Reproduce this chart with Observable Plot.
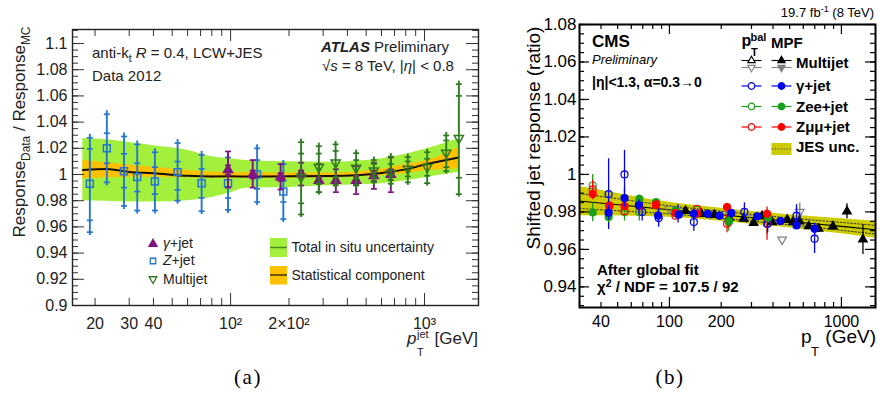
<!DOCTYPE html>
<html><head><meta charset="utf-8">
<script src="https://cdn.jsdelivr.net/npm/d3@7"></script>
<script src="https://cdn.jsdelivr.net/npm/@observablehq/plot@0.6"></script>
<style>
html,body{margin:0;padding:0;background:#fff;}
#wrap{position:relative;width:878px;height:394px;overflow:hidden;font-family:"Liberation Sans",Arial,sans-serif;}
#wrap svg{position:absolute;top:0;overflow:visible;}
</style></head><body><div id="wrap"></div>
<script>
// ================= Panel (a) data =================
const aZPt      = [18.8, 23, 28.2, 33, 40.7, 53.3, 70.9, 97, 137, 187];
const aZVal     = [0.993, 1.020, 1.0025, 0.998, 0.9947, 1.0018, 0.9933, 0.9933, 1.0, 0.987];
const aZUp      = [1.028, 1.046, 1.029, 1.023, 1.017, 1.024, 1.015, 1.013, 1.020, 1.008];
const aZDn      = [0.956, 0.994, 0.976, 0.9725, 0.9725, 0.980, 0.972, 0.973, 0.979, 0.966];
const aZStatUp  = [1.0196, 1.0315, 1.0158, 1.0086, 1.0056, 1.0099, 1.0043, 1.004, 1.011, 0.995];
const aZStatDn  = [0.965, 1.0086, 0.990, 0.987, 0.985, 0.9883, 0.9822, 0.982, 0.989, 0.979];

const aGPt      = [97, 130, 181, 231, 285, 349, 444, 548, 670];
const aGVal     = [1.0036, 1.0, 0.998, 1.0005, 0.9954, 0.9954, 0.9954, 0.999, 1.0];
const aGUp      = [1.0176, 1.011, 1.008, 1.009, 1.008, 1.004, 1.0063, 1.009, 1.013];
const aGDn      = [0.990, 0.990, 0.9885, 0.9916, 0.9865, 0.9865, 0.985, 0.989, 0.9865];
const aGStatUp  = [1.007, 1.003, 1.001, 1.003, 0.998, 0.998, 0.999, 1.003, 1.004];
const aGStatDn  = [1.000, 0.997, 0.995, 0.998, 0.993, 0.993, 0.992, 0.995, 0.996];

const aMPt      = [231, 285, 348, 444, 548, 670, 820, 1032, 1294, 1503];
const aMVal     = [0.998, 1.0056, 1.009, 1.005, 1.003, 1.001, 1.0043, 1.0056, 1.0165, 1.0277];
const aMUp      = [1.0247, 1.0216, 1.023, 1.0163, 1.011, 1.0137, 1.0133, 1.017, 1.0298, 1.069];
const aMDn      = [0.9695, 0.9865, 0.9916, 0.9916, 0.994, 0.993, 0.994, 0.9934, 1.0025, 0.985];
const aMStatUp  = [1.016, 1.016, 1.018, 1.011, 1.008, 1.008, 1.010, 1.012, 1.026, 1.060];
const aMStatDn  = [0.978, 0.993, 0.998, 0.997, 0.998, 0.996, 0.9985, 0.999, 1.0056, 0.9975];

const aBandPt   = [17.3, 23, 30, 40, 60, 80, 100, 120, 200, 330, 600, 820, 1030, 1500];
const aBandC    = [1.0035, 1.0043, 1.002, 1.001, 0.999, 0.9985, 0.9986, 0.9985, 0.9986, 0.9988, 1.0012, 1.0043, 1.008, 1.013];
const aTotUp    = [1.0275, 1.0265, 1.0245, 1.022, 1.0185, 1.0135, 1.012, 1.0107, 1.0097, 1.0094, 1.012, 1.0158, 1.0196, 1.0273];
const aTotDn    = [0.980, 0.9795, 0.979, 0.979, 0.980, 0.9825, 0.986, 0.9895, 0.990, 0.9916, 0.993, 0.9954, 0.998, 1.0018];
const aStatUp   = [1.0107, 1.009, 1.007, 1.0056, 1.003, 1.002, 1.0018, 1.0015, 1.0012, 1.0012, 1.004, 1.008, 1.0107, 1.0208];
const aStatDn   = [0.9967, 0.9975, 0.998, 0.998, 0.9975, 0.997, 0.997, 0.997, 0.9972, 0.9975, 0.999, 1.001, 1.003, 1.0043];

const aXTickVals = [20, 30, 40, 100, 200, 1000];
const aXTickText = ["20", "30", "40", "10²", "2×10²", "10³"];
const aYTickVals = [0.9, 0.92, 0.94, 0.96, 0.98, 1, 1.02, 1.04, 1.06, 1.08, 1.1];
const aYTickText = ["0.9", "0.92", "0.94", "0.96", "0.98", "1", "1.02", "1.04", "1.06", "1.08", "1.1"];

// ================= Panel (b) data =================
const bMjMpfPt  = [124, 153.3, 182.8, 222.3, 269.8, 308.7, 345.6, 395.6, 484, 523.3, 569.6, 645.4, 736.7, 892.3, 1077, 1334];
const bMjMpfVal = [0.9805, 0.979, 0.9785, 0.977, 0.9764, 0.9742, 0.9778, 0.9746, 0.9758, 0.9746, 0.975, 0.9724, 0.971, 0.9723, 0.9803, 0.9653];
const bMjMpfErr = [0.001, 0.001, 0.001, 0.001, 0.001, 0.001, 0.001, 0.001, 0.0012, 0.0012, 0.0015, 0.0015, 0.002, 0.002, 0.004, 0.008];
const bMjBalPt  = [99.6, 119.1, 143.5, 172.9, 222.3, 281.8, 361.5, 451.8, 572.6];
const bMjBalVal = [0.9817, 0.9805, 0.980, 0.979, 0.979, 0.977, 0.978, 0.9652, 0.980];
const bMjBalErr = [0.001, 0.001, 0.001, 0.001, 0.0015, 0.0015, 0.002, 0.002, 0.003];

const bGMpfPt   = [44.3, 54.8, 66.4, 86.0, 113.2, 138.7, 167.1, 195.6, 229.2, 323.6, 441.7, 548.3, 698.2];
const bGMpfVal  = [0.9796, 0.9874, 0.9835, 0.978, 0.9785, 0.979, 0.979, 0.978, 0.9794, 0.9776, 0.9751, 0.9728, 0.971];
const bGMpfErr  = [0.004, 0.005, 0.003, 0.003, 0.002, 0.002, 0.002, 0.002, 0.002, 0.002, 0.002, 0.002, 0.003];
const bGBalPt   = [44.3, 54.8, 69.4, 86.6, 112.3, 138.7, 272.8, 372.5, 548.3, 698.2];
const bGBalVal  = [0.9895, 1.0, 0.980, 0.9767, 0.979, 0.9746, 0.980, 0.9737, 0.978, 0.9657];
const bGBalErr  = [0.017, 0.011, 0.003, 0.003, 0.003, 0.003, 0.003, 0.003, 0.004, 0.006];

const bZeMpfPt  = [35.8, 44.3, 66.8, 83.6, 108.4, 221.3, 374.6];
const bZeMpfVal = [0.9797, 0.9773, 0.987, 0.9852, 0.9806, 0.9751, 0.977];
const bZeMpfErr = [0.005, 0.003, 0.002, 0.002, 0.002, 0.002, 0.003];
const bZeBalPt  = [35.8, 54.8, 66.8, 83.6, 144.5, 221.3, 369.5];
const bZeBalVal = [0.9941, 0.980, 0.980, 0.9835, 0.9812, 0.9746, 0.9737];
const bZeBalErr = [0.004, 0.003, 0.003, 0.002, 0.002, 0.003, 0.004];

const bZmMpfPt  = [35.8, 44.7, 54.8, 66.8, 83.6, 108.4, 144.5, 216.3, 369.5];
const bZmMpfVal = [0.9895, 0.983, 0.9831, 0.983, 0.984, 0.9794, 0.979, 0.9826, 0.979];
const bZmMpfErr = [0.003, 0.002, 0.002, 0.002, 0.002, 0.002, 0.002, 0.002, 0.002];
const bZmBalPt  = [35.8, 44.7, 54.8, 83.6, 108.4, 144.5, 216.3, 369.5];
const bZmBalVal = [0.992, 0.9835, 0.9804, 0.9835, 0.978, 0.9817, 0.9737, 0.9737];
const bZmBalErr = [0.003, 0.002, 0.002, 0.002, 0.002, 0.002, 0.003, 0.007];

const bJesPt    = [30.0, 41.9, 56.2, 75.4, 114.2, 192.6, 291.7, 492, 694.2, 1000, 1576];
const bJesC     = [0.9858, 0.9845, 0.9834, 0.9822, 0.9806, 0.9786, 0.977, 0.975, 0.9737, 0.9723, 0.9705];
const bJesUp    = [0.9936, 0.9911, 0.9890, 0.9868, 0.9843, 0.9821, 0.9804, 0.9785, 0.9774, 0.9763, 0.9750];
const bJesDn    = [0.9780, 0.9779, 0.9778, 0.9776, 0.9769, 0.9751, 0.9736, 0.9715, 0.9700, 0.9683, 0.9660];
const bJesDotUp = [0.9898, 0.9880, 0.9864, 0.9847, 0.9826, 0.9805, 0.9788, 0.9768, 0.9756, 0.9744, 0.9728];
const bJesDotDn = [0.9818, 0.9810, 0.9804, 0.9797, 0.9786, 0.9767, 0.9752, 0.9732, 0.9718, 0.9702, 0.9682];

const bXTickVals = [40, 100, 200, 1000];
const bXTickText = ["40", "100", "200", "1000"];
const bYTickVals = [0.94, 0.96, 0.98, 1, 1.02, 1.04, 1.06, 1.08];
const bYTickText = ["0.94", "0.96", "0.98", "1", "1.02", "1.04", "1.06", "1.08"];

// ================= helpers =================
const sqrt3 = Math.sqrt(3);
const triDown = {draw(ctx, size) { const y = -Math.sqrt(size / (sqrt3 * 3)); ctx.moveTo(0, -2 * y); ctx.lineTo(-sqrt3 * y, y); ctx.lineTo(sqrt3 * y, y); ctx.closePath(); }};
const capSym = {draw(ctx) { ctx.moveTo(-3, 0); ctx.lineTo(3, 0); }};

function logMinor(lo, hi) {
  const out = [];
  for (let e = 1; e <= 3; e++) for (let k = 2; k <= 9; k++) { const v = k * 10 ** e; if (v >= lo && v <= hi) out.push(v); }
  return out;
}
function linTicks(lo, hi, step) {
  const out = []; const n = Math.round((hi - lo) / step);
  for (let i = 0; i <= n; i++) out.push(+(lo + i * step).toFixed(4));
  return out;
}
function frameTicks({xMinor, xMajor, yMinor, yMajor, innerW, innerH, lenMinX, lenMajX, lenMinY, lenMajY, stroke, sw}) {
  const o = {stroke, strokeWidth: sw};
  return [
    Plot.tickY(yMinor, {...o, y: d => d, insetRight: innerW - lenMinY}),
    Plot.tickY(yMinor, {...o, y: d => d, insetLeft: innerW - lenMinY}),
    Plot.tickY(yMajor, {...o, y: d => d, insetRight: innerW - lenMajY}),
    Plot.tickY(yMajor, {...o, y: d => d, insetLeft: innerW - lenMajY}),
    Plot.tickX(xMinor, {...o, x: d => d, insetTop: innerH - lenMinX}),
    Plot.tickX(xMinor, {...o, x: d => d, insetBottom: innerH - lenMinX}),
    Plot.tickX(xMajor, {...o, x: d => d, insetTop: innerH - lenMajX}),
    Plot.tickX(xMajor, {...o, x: d => d, insetBottom: innerH - lenMajX})
  ];
}

// ================= Panel (a) =================
const aW = 490, aH = 394, aML = 72, aMR = 12, aMT = 29, aMB = 89;
const aInnerW = aW - aML - aMR, aInnerH = aH - aMT - aMB;
const colBlue = "#2576d2", colPurple = "#80147f", colGreen = "#2d7a1f";

const bandA = aBandPt.map((p, i) => ({pt: p, c: aBandC[i], tu: aTotUp[i], td: aTotDn[i], su: aStatUp[i], sd: aStatDn[i]}));
const zRows = aZPt.map((p, i) => ({pt: p, v: aZVal[i], up: aZUp[i], dn: aZDn[i], su: aZStatUp[i], sd: aZStatDn[i]}));
const gRows = aGPt.map((p, i) => ({pt: p, v: aGVal[i], up: aGUp[i], dn: aGDn[i], su: aGStatUp[i], sd: aGStatDn[i]}));
const mRows = aMPt.map((p, i) => ({pt: p, v: aMVal[i], up: aMUp[i], dn: aMDn[i], su: aMStatUp[i], sd: aMStatDn[i]}));

function seriesA(rows, color, symbol, fill, r, gap) {
  const caps = rows.flatMap(d => [{pt: d.pt, y: d.up}, {pt: d.pt, y: d.dn}, {pt: d.pt, y: d.su}, {pt: d.pt, y: d.sd}]);
  return [
    Plot.ruleX(rows, {x: "pt", y1: "dn", y2: "v", stroke: color, strokeWidth: 1.9, insetTop: gap}),
    Plot.ruleX(rows, {x: "pt", y1: "v", y2: "up", stroke: color, strokeWidth: 1.9, insetBottom: gap}),
    Plot.dot(caps, {x: "pt", y: "y", symbol: capSym, stroke: color, fill: "none", strokeWidth: 1.7}),
    Plot.dot(rows, {x: "pt", y: "v", symbol, r, stroke: color, fill, strokeWidth: 1.5})
  ];
}

const plotA = Plot.plot({
  width: aW, height: aH, marginLeft: aML, marginRight: aMR, marginTop: aMT, marginBottom: aMB,
  style: {fontFamily: "Liberation Sans, Arial, sans-serif", fontSize: "16px", color: "#222", background: "transparent"},
  x: {type: "log", domain: [15.3, 1898], axis: null},
  y: {domain: [0.9, 1.1107], axis: null},
  marks: [
    Plot.areaY(bandA, {x: "pt", y1: "td", y2: "tu", fill: "#a2ef3c", curve: "monotone-x"}),
    Plot.areaY(bandA, {x: "pt", y1: "sd", y2: "su", fill: "#ffc000", curve: "monotone-x"}),
    Plot.line(bandA, {x: "pt", y: "c", stroke: "#111", strokeWidth: 2, curve: "monotone-x"}),
    ...seriesA(zRows, colBlue, "square", "none", 3.9, 3.5),
    ...seriesA(gRows, colPurple, "triangle", colPurple, 3.4, 0),
    ...seriesA(mRows, colGreen, triDown, "none", 3.4, 3),
    ...frameTicks({xMinor: logMinor(15.3, 1898), xMajor: [100, 1000], yMinor: linTicks(0.9, 1.11, 0.005), yMajor: aYTickVals,
      innerW: aInnerW, innerH: aInnerH, lenMinX: 7, lenMajX: 12, lenMinY: 6, lenMajY: 12, stroke: "#333", sw: 1}),
    Plot.frame({stroke: "#222", strokeWidth: 1.4}),
    Plot.text(aXTickVals, {x: d => d, text: (d, i) => aXTickText[i], frameAnchor: "bottom", lineAnchor: "bottom", dy: 23, fontSize: 16, fill: "#222"}),
    Plot.text(aYTickVals, {y: d => d, text: (d, i) => aYTickText[i], frameAnchor: "left", textAnchor: "end", lineAnchor: "middle", dx: -5, fontSize: 16, fill: "#222"})
  ]
});
plotA.style.left = "0px";

// ================= Panel (b) =================
const bW = 388, bH = 394, bML = 89, bMR = 3, bMT = 24, bMB = 87;
const bInnerW = bW - bML - bMR, bInnerH = bH - bMT - bMB;
const cB = "#0000ee", cG = "#18a018", cR = "#ff0000", cGray = "#808080";

const bandB = bJesPt.map((p, i) => ({pt: p, c: bJesC[i], u: bJesUp[i], d: bJesDn[i], du: bJesDotUp[i], dd: bJesDotDn[i]}));
function rowsB(pt, val, err) { return pt.map((p, i) => ({pt: p, v: val[i], up: val[i] + err[i], dn: val[i] - err[i], e: err[i]})); }

function seriesB(rows, color, symbol, open, r) {
  const marks = [];
  if (open) {
    const big = rows.filter(d => d.e > 0.0021);
    marks.push(Plot.ruleX(big, {x: "pt", y1: "dn", y2: "v", stroke: color, strokeWidth: 1.3, insetTop: r}));
    marks.push(Plot.ruleX(big, {x: "pt", y1: "v", y2: "up", stroke: color, strokeWidth: 1.3, insetBottom: r}));
  } else {
    marks.push(Plot.ruleX(rows, {x: "pt", y1: "dn", y2: "up", stroke: color, strokeWidth: 1.3}));
  }
  marks.push(Plot.dot(rows, {x: "pt", y: "v", symbol, r, stroke: color, fill: open ? "none" : color, strokeWidth: 1.2}));
  return marks;
}

const plotB = Plot.plot({
  width: bW, height: bH, marginLeft: bML, marginRight: bMR, marginTop: bMT, marginBottom: bMB,
  style: {fontFamily: "Liberation Sans, Arial, sans-serif", fontSize: "17px", color: "#000", background: "transparent"},
  x: {type: "log", domain: [30, 1578], axis: null},
  y: {domain: [0.929, 1.08], axis: null},
  marks: [
    Plot.areaY(bandB, {x: "pt", y1: "d", y2: "u", fill: "#cccc00"}),
    Plot.line(bandB, {x: "pt", y: "du", stroke: "#333", strokeWidth: 1, strokeDasharray: "1.5,2"}),
    Plot.line(bandB, {x: "pt", y: "dd", stroke: "#333", strokeWidth: 1, strokeDasharray: "1.5,2"}),
    Plot.line(bandB, {x: "pt", y: "c", stroke: "#000", strokeWidth: 1.1}),
    ...seriesB(rowsB(bMjBalPt, bMjBalVal, bMjBalErr), cGray, triDown, true, 3.2),
    ...seriesB(rowsB(bMjMpfPt, bMjMpfVal, bMjMpfErr), "#000", "triangle", false, 3.2),
    ...seriesB(rowsB(bZeBalPt, bZeBalVal, bZeBalErr), cG, "circle", true, 3.5),
    ...seriesB(rowsB(bZmBalPt, bZmBalVal, bZmBalErr), cR, "circle", true, 3.5),
    ...seriesB(rowsB(bGBalPt, bGBalVal, bGBalErr), cB, "circle", true, 3.5),
    ...seriesB(rowsB(bZeMpfPt, bZeMpfVal, bZeMpfErr), cG, "circle", false, 3.5),
    ...seriesB(rowsB(bZmMpfPt, bZmMpfVal, bZmMpfErr), cR, "circle", false, 3.5),
    ...seriesB(rowsB(bGMpfPt, bGMpfVal, bGMpfErr), cB, "circle", false, 3.5),
    ...frameTicks({xMinor: logMinor(30, 1578), xMajor: [100, 1000], yMinor: linTicks(0.93, 1.08, 0.005), yMajor: bYTickVals,
      innerW: bInnerW, innerH: bInnerH, lenMinX: 5, lenMajX: 10, lenMinY: 5, lenMajY: 10, stroke: "#000", sw: 1.2}),
    Plot.frame({stroke: "#000", strokeWidth: 2}),
    Plot.text(bXTickVals, {x: d => d, text: (d, i) => bXTickText[i], frameAnchor: "bottom", lineAnchor: "bottom", dy: 19, fontSize: 16}),
    Plot.text(bYTickVals, {y: d => d, text: (d, i) => bYTickText[i], frameAnchor: "left", textAnchor: "end", lineAnchor: "middle", dx: -3, fontSize: 17})
  ]
});
plotB.style.left = "490px";

const wrap = document.getElementById("wrap");
wrap.appendChild(plotA);
wrap.appendChild(plotB);

// ================= Overlay text & legends =================
const ov = d3.create("svg").attr("width", 878).attr("height", 394)
  .style("left", "0px").style("font-family", "Liberation Sans, Arial, sans-serif");
wrap.appendChild(ov.node());

function rich(x, y, parts, {size = 14, anchor = "start", weight = "normal", style = "normal", fill = "#000", rotate = null, family = null, spacing = null, supShift = 0.42} = {}) {
  const t = ov.append("text").attr("x", x).attr("y", y).attr("font-size", size).attr("text-anchor", anchor)
    .attr("font-weight", weight).attr("font-style", style).attr("fill", fill);
  if (family) t.attr("font-family", family);
  if (spacing) t.attr("letter-spacing", spacing);
  if (rotate != null) t.attr("transform", `rotate(${rotate},${x},${y})`);
  let cur = 0;
  for (const p of parts) {
    const o = typeof p === "string" ? {t: p} : p;
    const target = o.sup ? -supShift * size : o.sub ? 0.28 * size : 0;
    const ts = t.append("tspan").text(o.t).attr("dy", target - cur);
    cur = target;
    if (o.sup || o.sub) ts.attr("font-size", size * 0.7);
    if (o.i) ts.attr("font-style", "italic");
    if (o.b) ts.attr("font-weight", "bold");
  }
  return t;
}
function sym(type, x, y, size, stroke, fill, sw = 1.3) {
  ov.append("path").attr("d", d3.symbol(type, size)()).attr("transform", `translate(${x},${y})`)
    .attr("stroke", stroke).attr("fill", fill).attr("stroke-width", sw);
}
function hline(x1, x2, y, stroke, sw = 1.3, dash = null) {
  const l = ov.append("line").attr("x1", x1).attr("x2", x2).attr("y1", y).attr("y2", y).attr("stroke", stroke).attr("stroke-width", sw);
  if (dash) l.attr("stroke-dasharray", dash);
}

// ---- panel (a) texts ----
const ca = "#222";
rich(25, 132, ["Response", {t: "Data", sub: 1}, " / Response", {t: "MC", sub: 1}], {size: 17, anchor: "middle", rotate: -90, fill: ca});
rich(407, 344, [{t: "p", i: 1}], {size: 17, fill: ca});
rich(417, 337.5, ["jet"], {size: 11, fill: ca});
rich(417, 356, ["T"], {size: 11, fill: ca});
rich(478, 344, ["[GeV]"], {size: 17, anchor: "end", fill: ca});
rich(92, 58, ["anti-k", {t: "t", sub: 1}, " ", {t: "R", i: 1}, " = 0.4, LCW+JES"], {size: 15, fill: ca});
rich(92, 81, ["Data 2012"], {size: 15, fill: ca});
rich(321, 52, [{t: "ATLAS", b: 1, i: 1}, " Preliminary"], {size: 15, fill: ca});
rich(322, 71, ["√", {t: "s", i: 1}, " = 8 TeV, |", {t: "η", i: 1}, "| < 0.8"], {size: 15, fill: ca});

// legend (a)
sym(d3.symbolTriangle, 153, 244, 30, colPurple, colPurple, 1.2);
sym(d3.symbolSquare, 153, 261, 30, colBlue, "none", 1.3);
sym(triDown, 153, 279, 26, colGreen, "none", 1.3);
rich(163, 248, [{t: "γ", i: 1}, "+jet"], {size: 14, fill: ca});
rich(163, 265, [{t: "Z", i: 1}, "+jet"], {size: 14, fill: ca});
rich(163, 283.5, ["Multijet"], {size: 14, fill: ca});
ov.append("rect").attr("x", 270).attr("y", 238).attr("width", 17).attr("height", 19).attr("fill", "#a2ef3c");
hline(270, 287, 247.5, "#4a8a2a", 1.5);
ov.append("rect").attr("x", 270).attr("y", 266).attr("width", 17).attr("height", 18.5).attr("fill", "#ffc000");
hline(270, 287, 275, "#111", 1.2);
rich(291.5, 252, ["Total in situ uncertainty"], {size: 14, fill: ca});
rich(291.5, 279.5, ["Statistical component"], {size: 14, fill: ca});

// ---- panel (b) texts ----
rich(540, 138, ["Shifted jet response (ratio)"], {size: 19, anchor: "middle", rotate: -90});
rich(801, 343, ["p"], {size: 19});
rich(811, 356, ["T"], {size: 13});
rich(876, 343, ["(GeV)"], {size: 19, anchor: "end"});
rich(874, 17, ["19.7 fb", {t: "-1", sup: 1}, " (8 TeV)"], {size: 13, anchor: "end"});
rich(592, 46.5, ["CMS"], {size: 17, weight: "bold"});
rich(592, 63.5, ["Preliminary"], {size: 13, style: "italic"});
rich(592, 87, ["|η|<1.3,  α=0.3→0"], {size: 14, weight: "bold"});
rich(597, 275, ["After global fit"], {size: 15, weight: "bold"});
rich(597, 292, ["χ", {t: "2", sup: 1}, " / NDF = 107.5 / 92"], {size: 15, weight: "bold", supShift: 0.32});

// legend (b)
rich(741.5, 46, ["p"], {size: 16, weight: "bold"});
rich(750.5, 41, ["bal"], {size: 11, weight: "bold"});
rich(751, 55.5, ["T"], {size: 11, weight: "bold"});
rich(771, 47.5, ["MPF"], {size: 15, weight: "bold"});
const lx1 = 741.5, lx2 = 761.5, rx1 = 771.5, rx2 = 791.5, mxL = 751.5, mxR = 781.5;
hline(lx1, lx2, 60.5, "#000", 1.1); hline(lx1, lx2, 67.5, cGray, 1.1);
hline(rx1, rx2, 60.5, "#000", 1.1); hline(rx1, rx2, 67.5, cGray, 1.1);
sym(d3.symbolTriangle, mxL, 60.5, 24, "#000", "#fff", 1.1);
sym(triDown, mxL, 67.5, 24, cGray, "#fff", 1.1);
sym(d3.symbolTriangle, mxR, 60.5, 24, "#000", "#000", 1.1);
sym(triDown, mxR, 67.5, 24, cGray, cGray, 1.1);
rich(796, 68, ["Multijet"], {size: 15, weight: "bold"});
const legRows = [[86, cB, "γ+jet", 91], [106.5, cG, "Zee+jet", 111.5], [127, cR, "Zμμ+jet", 132]];
for (const [y, c, lab, by] of legRows) {
  hline(lx1, lx2, y, c, 1.2); hline(rx1, rx2, y, c, 1.2);
  sym(d3.symbolCircle, mxL, y, 34, c, "#fff", 1.2);
  sym(d3.symbolCircle, mxR, y, 34, c, c, 1.2);
  rich(796, by, [lab], {size: 15, weight: "bold"});
}
ov.append("rect").attr("x", rx1).attr("y", 143).attr("width", 20).attr("height", 12).attr("fill", "#cccc00");
hline(rx1, rx2, 149, "#555", 1, "1.5,1.5");
rich(796, 152, ["JES unc."], {size: 15, weight: "bold"});

// captions
rich(248, 384, ["(a)"], {size: 21, anchor: "middle", family: "Liberation Serif, serif", spacing: 1.5});
rich(670, 384, ["(b)"], {size: 21, anchor: "middle", family: "Liberation Serif, serif", spacing: 1.5});
</script>
</body></html>
